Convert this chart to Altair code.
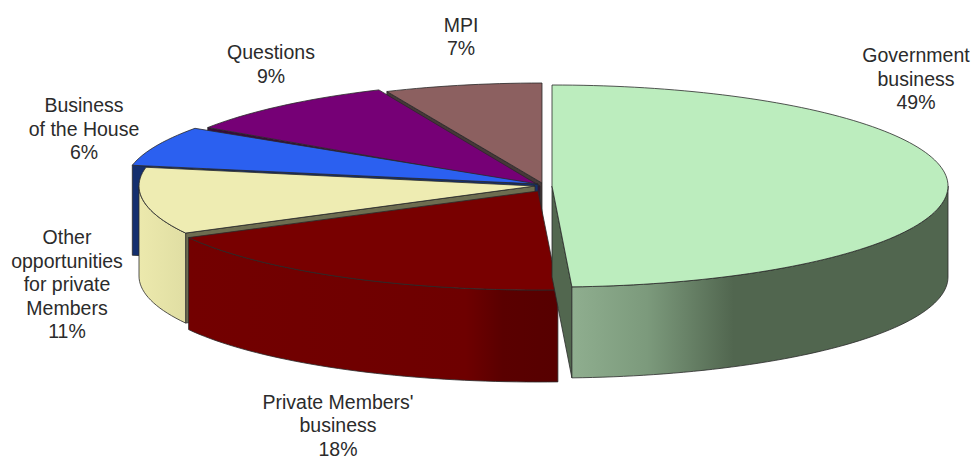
import math
import altair as alt
import pandas as pd

# Data
names = ["Government\nbusiness", "Private Members'\nbusiness", "Other\nopportunities\nfor private\nMembers",
         "Business\nof the House", "Questions", "MPI"]
shares = [49.2, 18.0, 10.8, 6.4, 9.0, 6.6]

# Styling and the tilted-pie geometry (image pixels)
tops = ["#bcedbe", "#780000", "#eeecb2", "#2b60f0", "#760076", "#8c6060"]
faces = ["#52674f", None, "#6d6d50", "#142f6e", "#3a0a3a", "#463838"]
face_side = ["end", None, "start", "start", "start", "start"]
centres = [(552, 186), (538, 191), (535, 186), (538, 184), (540, 186), (542, 183)]
radii = [(396, 101), (396, 99), (396, 100), (413, 100), (400, 105), (385, 100)]
depths = [91, 92, 90, 90, 90, 90]
walls = [
    [(0, "#8fae8f"), (0.2, "#7c9a7c"), (0.43, "#51664f"), (1, "#51664f")],
    [(0, "#730000"), (0.75, "#6e0000"), (0.85, "#5a0000"), (1, "#570000")],
    [(0, "#ece9ad"), (1, "#e0dea3")],
    None, None, None,
]
label_pos = [(916, 56), (338, 402.5), (67, 238), (84, 106), (271, 53), (461, 25.5)]
W, H = 963, 450
LEFT, TOP = 8, 8

xs = alt.X("x:Q", axis=None, scale=alt.Scale(domain=[LEFT, LEFT + W]))
ys = alt.Y("y:Q", axis=None, scale=alt.Scale(domain=[TOP + H, TOP]))


def pt(i, t, dz=0):
    cx, cy = centres[i]
    rx, ry = radii[i]
    a = math.radians(t)
    return (cx + rx * math.sin(a), cy - ry * math.cos(a) + dz)


def arc(i, t0, t1, dz=0):
    n = max(2, int(abs(t1 - t0) / 1.5))
    return [pt(i, t0 + (t1 - t0) * k / n, dz) for k in range(n + 1)]


def poly(points, fill, stroke="#2a2a2a", sw=0.8):
    df = pd.DataFrame(points, columns=["x", "y"])
    df["o"] = range(len(df))
    return alt.Chart(df).mark_line(
        interpolate="linear-closed", fill=fill, stroke=stroke, strokeWidth=sw, strokeJoin="round"
    ).encode(x=xs, y=ys, order="o:Q")


bounds = [0.0]
for s in shares:
    bounds.append(bounds[-1] + s * 3.6)

layers = []
for i in [5, 4, 3, 2, 1, 0]:
    t0, t1 = bounds[i], bounds[i + 1]
    cx, cy = centres[i]
    d = depths[i]
    if face_side[i]:
        t = t0 if face_side[i] == "start" else t1
        a, b = pt(i, t), pt(i, t, d)
        layers.append(poly([(cx, cy), a, b, (cx, cy + d)], faces[i]))
    w0, w1 = max(t0, 90), min(t1, 270)
    if walls[i] and w1 > w0:
        grad = alt.LinearGradient(
            gradient="linear", x1=0, x2=1, y1=0, y2=0,
            stops=[alt.GradientStop(offset=o, color=c) for o, c in walls[i]],
        )
        layers.append(poly(arc(i, w0, w1) + arc(i, w1, w0, d), grad))
    layers.append(poly([(cx, cy)] + arc(i, t0, t1), tops[i]))

labels = pd.DataFrame({
    "text": [f"{n}\n{round(s)}%" for n, s in zip(names, shares)],
    "x": [p[0] for p in label_pos],
    "y": [p[1] for p in label_pos],
})
text = alt.Chart(labels).mark_text(
    font="Liberation Sans", fontSize=19.5, color="#2b2b2b", lineBreak="\n", lineHeight=23.5,
    align="center", baseline="middle",
).encode(x=xs, y=ys, text="text:N")

chart = alt.layer(*layers, text).properties(
    width=W, height=H, padding=0, autosize=alt.AutoSizeParams(type="none")
).configure_view(stroke=None)

chart.save("out.html", embed_options={"renderer": "svg", "actions": False})
